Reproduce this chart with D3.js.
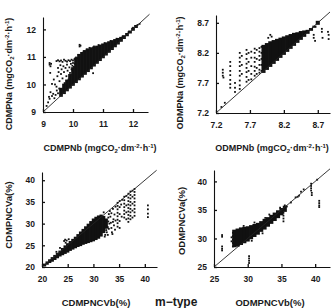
<!DOCTYPE html>
<html>
<head>
<meta charset="utf-8">
<script src="https://cdn.jsdelivr.net/npm/d3@7"></script>
<style>
body { margin: 0; background: #fff; }
svg text { font-family: "Liberation Sans", Arial, sans-serif; font-weight: bold; fill: #1a1a1a; }
</style>
</head>
<body>
<script>
// ---- data ----
// dense clouds are stored as [x, yLow, yHigh] columns, loose dots as [x, y]

var cdmpnTicks = [9, 10, 11, 12];
var odmpnTicks = [7.2, 7.7, 8.2, 8.7];
var cdmpncvXTicks = [20, 25, 30, 35, 40];
var cdmpncvYTicks = [20, 25, 30, 35, 40];
var odmpncvTicks = [25, 30, 35, 40];

var cdmpnCore = [
  [9.6, 9.58, 9.85], [9.7, 9.68, 10.0], [9.8, 9.78, 10.15], [9.9, 9.88, 10.35],
  [10.0, 9.98, 10.6], [10.1, 10.08, 10.95], [10.2, 10.18, 11.08], [10.3, 10.28, 11.15],
  [10.4, 10.38, 11.22], [10.5, 10.48, 11.28], [10.6, 10.58, 11.32], [10.7, 10.68, 11.35],
  [10.8, 10.78, 11.38], [10.9, 10.88, 11.42], [11.0, 10.98, 11.46], [11.1, 11.08, 11.5],
  [11.2, 11.18, 11.54], [11.3, 11.28, 11.58], [11.4, 11.38, 11.62], [11.5, 11.48, 11.66],
  [11.6, 11.58, 11.7], [11.7, 11.68, 11.76], [11.8, 11.78, 11.84], [11.9, 11.88, 11.93],
  [12.0, 11.98, 12.03], [12.1, 12.08, 12.13]
];
var cdmpnPts = [
  [9.12, 9.22], [9.17, 9.35], [9.2, 9.55], [9.22, 9.48], [9.25, 9.72], [9.3, 9.58], [9.34, 9.66],
  [9.38, 9.5], [9.42, 9.62], [9.46, 9.78], [9.5, 9.68], [9.54, 9.85],
  [9.22, 10.78], [9.22, 10.72], [9.25, 10.66], [9.27, 10.75], [9.24, 10.42], [9.3, 10.02], [9.36, 10.18],
  [9.45, 10.85], [9.5, 10.88], [9.55, 10.84], [9.6, 10.87], [9.65, 10.82], [9.7, 10.9], [9.75, 10.86],
  [9.8, 10.83], [9.85, 10.88], [9.9, 10.85], [9.95, 10.9], [10.0, 10.87], [10.05, 10.92],
  [9.48, 10.3], [9.5, 10.6], [9.52, 10.45], [9.55, 10.12], [9.58, 10.7], [9.6, 10.38], [9.62, 10.55],
  [9.65, 10.22], [9.68, 10.66], [9.7, 10.45], [9.72, 10.05], [9.75, 10.6], [9.78, 10.3], [9.8, 10.72],
  [9.82, 10.5], [9.85, 10.18], [9.88, 10.62], [9.9, 10.42], [9.93, 10.75], [9.95, 10.55], [9.98, 10.68],
  [10.0, 10.78], [10.03, 10.64], [10.06, 10.75], [10.1, 10.98], [10.15, 10.96], [9.4, 10.0], [9.45, 9.92],
  [10.22, 11.38], [10.22, 11.44], [10.25, 11.41], [10.67, 10.41], [10.35, 11.2], [10.45, 11.27],
  [10.55, 11.33], [10.7, 11.38], [10.85, 11.43], [11.05, 11.5], [11.25, 11.58], [11.45, 11.66],
  [11.65, 11.74], [11.85, 11.9], [12.0, 12.06], [12.15, 12.16], [12.22, 12.2]
];

var odmpnCore = [
  [7.9, 7.88, 8.32], [7.95, 7.93, 8.35], [8.0, 7.98, 8.38], [8.05, 8.03, 8.4], [8.1, 8.08, 8.42],
  [8.15, 8.13, 8.44], [8.2, 8.18, 8.46], [8.25, 8.23, 8.48], [8.3, 8.28, 8.5], [8.35, 8.33, 8.52],
  [8.4, 8.38, 8.53], [8.45, 8.43, 8.55], [8.5, 8.48, 8.56], [8.55, 8.53, 8.57], [8.6, 8.58, 8.6],
  [8.65, 8.63, 8.64], [8.7, 8.68, 8.72]
];
var odmpnPts = [
  [7.3, 7.92], [7.3, 7.87], [7.3, 7.82], [7.31, 7.79], [7.33, 7.37], [7.28, 7.3],
  [7.41, 8.05], [7.41, 7.98], [7.41, 7.9], [7.41, 7.83], [7.41, 7.75], [7.41, 7.68], [7.41, 7.62],
  [7.48, 7.7], [7.48, 7.62], [7.48, 7.55],
  [7.55, 8.2], [7.55, 8.12], [7.55, 8.05], [7.55, 7.98], [7.55, 7.9], [7.55, 7.82], [7.55, 7.74], [7.55, 7.66], [7.55, 7.6],
  [7.58, 8.15], [7.58, 8.0], [7.58, 7.85],
  [7.65, 8.25], [7.65, 8.18], [7.65, 8.1], [7.65, 8.02], [7.65, 7.95], [7.65, 7.88], [7.65, 7.8], [7.65, 7.72],
  [7.68, 8.2], [7.68, 8.05], [7.68, 7.9], [7.68, 7.75],
  [7.72, 8.22], [7.72, 8.12], [7.72, 7.98], [7.72, 7.85], [7.72, 7.76],
  [7.77, 8.27], [7.77, 8.2], [7.77, 8.12], [7.77, 8.05], [7.77, 7.97], [7.77, 7.9], [7.77, 7.82],
  [7.8, 8.25], [7.8, 8.1], [7.8, 7.95], [7.8, 7.85],
  [7.84, 8.28], [7.84, 8.22], [7.84, 8.15], [7.84, 8.08], [7.84, 8.0], [7.84, 7.92], [7.84, 7.87],
  [7.87, 8.3], [7.87, 8.2], [7.87, 8.1], [7.87, 8.0], [7.87, 7.9],
  [7.97, 8.45], [8.0, 8.5], [8.02, 8.47],
  [8.64, 8.45], [8.64, 8.5], [8.66, 8.4], [8.76, 8.6], [8.76, 8.55], [8.77, 8.45],
  [8.85, 8.55], [8.86, 8.5], [8.86, 8.43]
];

var cdmpncvCore = [
  [20.5, 20.3, 20.6], [21.0, 20.7, 21.1], [21.5, 21.1, 21.6], [22.0, 21.4, 22.1], [22.5, 21.8, 22.6],
  [23.0, 22.2, 23.1], [23.5, 22.6, 23.6], [24.0, 22.9, 24.2], [24.5, 23.2, 24.8], [25.0, 23.5, 25.3],
  [25.5, 23.9, 25.8], [26.0, 24.2, 26.3], [26.5, 24.5, 26.8], [27.0, 24.8, 27.4], [27.5, 25.0, 28.0],
  [28.0, 25.3, 28.6], [28.5, 25.5, 29.2], [29.0, 25.7, 29.8], [29.5, 25.9, 30.4], [30.0, 26.1, 31.0],
  [30.5, 26.4, 31.4], [31.0, 26.7, 31.7], [31.5, 27.2, 31.9], [32.0, 28.0, 31.6], [32.5, 29.0, 31.0]
];
var cdmpncvPts = [
  [24.3, 26.0], [24.5, 26.3], [24.6, 25.6], [24.8, 26.1], [25.2, 26.4], [23.5, 24.4], [22.8, 23.5],
  [32.0, 32.6], [32.3, 27.4], [32.5, 28.5], [32.6, 28.0], [32.8, 27.4], [32.2, 27.0], [32.9, 30.5], [33.0, 32.2],
  [32.8, 29.2], [32.9, 31.4], [33.0, 28.8], [33.1, 30.0],
  [33.2, 32.9], [33.3, 31.6], [33.4, 30.2], [33.5, 29.0], [33.6, 28.0], [33.8, 33.4], [33.9, 31.0], [34.0, 29.6], [33.7, 27.6],
  [33.5, 32.4], [33.8, 30.4], [34.1, 32.1], [34.2, 28.6], [34.3, 33.9], [34.3, 30.7],
  [34.7, 34.8], [34.7, 34.1], [34.7, 33.3], [34.7, 32.5], [34.7, 31.7], [34.7, 30.9], [34.7, 30.1], [34.7, 29.3],
  [35.1, 35.2], [35.1, 33.8], [35.1, 32.2], [35.1, 30.6], [35.1, 29.0], [35.4, 34.4], [35.5, 31.6], [35.6, 35.5],
  [36.0, 36.2], [36.0, 35.4], [36.0, 34.6], [36.0, 33.8], [36.0, 33.0], [36.0, 32.2], [36.0, 31.4],
  [36.4, 36.4], [36.4, 34.2], [36.4, 32.6], [36.4, 31.0],
  [36.8, 36.9], [36.8, 36.0], [36.8, 35.2], [36.8, 34.4], [36.8, 33.6], [36.8, 32.8], [36.8, 32.0], [36.8, 31.2], [36.8, 30.4],
  [37.2, 37.4], [37.2, 36.6], [37.2, 35.8], [37.2, 35.0], [37.2, 34.2], [37.2, 33.4], [37.2, 32.6], [37.2, 31.8], [37.2, 31.0],
  [37.6, 37.6], [37.6, 36.2], [37.6, 34.6], [37.6, 33.0], [37.6, 31.4],
  [38.0, 38.0], [38.0, 37.3], [38.0, 36.6], [38.0, 35.8], [38.0, 35.0], [38.0, 34.2], [38.0, 33.4], [38.0, 32.6], [38.0, 31.8],
  [40.6, 34.2], [40.6, 33.3], [40.6, 32.3], [40.6, 31.5]
];

var odmpncvCore = [
  [28.0, 28.6, 31.4], [28.5, 28.7, 31.6], [29.0, 29.0, 31.8], [29.5, 29.3, 31.9], [30.0, 29.6, 32.0],
  [30.5, 30.0, 32.2], [31.0, 30.4, 32.4], [31.5, 30.8, 32.6], [32.0, 31.3, 32.9], [32.5, 31.7, 33.3],
  [33.0, 32.2, 33.6], [33.5, 32.7, 34.0], [34.0, 33.2, 34.4], [34.5, 33.7, 34.8], [35.0, 34.2, 35.2],
  [35.5, 34.8, 35.6]
];
var odmpncvPts = [
  [26.2, 30.6], [26.2, 30.3], [26.2, 28.6], [26.2, 28.2], [26.2, 27.9],
  [30.2, 26.9], [30.2, 26.5], [30.2, 26.1], [30.2, 25.7],
  [27.8, 28.6], [27.8, 29.2], [27.8, 29.8], [27.8, 30.4], [27.8, 31.0], [27.6, 29.5], [27.6, 30.2],
  [33.2, 34.2], [32.6, 33.6], [31.0, 32.8], [29.4, 32.2], [34.8, 35.4], [30.6, 29.6], [32.2, 30.9],
  [35.3, 34.5], [35.3, 34.0], [35.3, 33.5], [35.3, 33.0],
  [35.5, 35.8], [35.8, 35.6], [36.4, 36.3], [37.1, 37.2], [37.4, 37.3],
  [37.9, 38.2], [38.3, 38.6], [37.6, 37.5],
  [39.4, 39.6], [39.4, 39.2], [39.4, 38.8], [39.4, 38.4], [39.5, 38.0], [39.5, 37.6],
  [40.6, 36.6], [40.6, 36.2], [40.6, 35.8], [40.6, 35.5],
  [40.3, 40.3]
];

// ---- layout ----
var width = 331, height = 308;

var panels = [
  { core: cdmpnCore, pts: cdmpnPts, step: 0.1, xt: cdmpnTicks, yt: cdmpnTicks, fmt: "d",
    xd: [9, 12.5], yd: [9, 12.45], xr: [43, 148], yr: [112, 17], diag: 12.55,
    xName: "CDMPNb", yName: "CDMPNa", unit: true, xLab: [100, 151], yLab: [12, 74] },
  { core: odmpnCore, pts: odmpnPts, step: 0.05, xt: odmpnTicks, yt: odmpnTicks, fmt: ".1f",
    xd: [7.2, 8.88], yd: [7.2, 8.83], xr: [216, 330], yr: [113, 15], diag: 8.88,
    xName: "ODMPNb", yName: "ODMPNa", unit: true, xLab: [272, 151], yLab: [183, 73] },
  { core: cdmpncvCore, pts: cdmpncvPts, step: 0.5, xt: cdmpncvXTicks, yt: cdmpncvYTicks, fmt: "d",
    xd: [20, 42.37], yd: [20, 41.9], xr: [42, 157], yr: [267, 172], diag: 42.3,
    xName: "CDMPNCVb(%)", yName: "CDMPNCVa(%)", unit: false, xLab: [96, 306], yLab: [12, 215] },
  { core: odmpncvCore, pts: odmpncvPts, step: 0.5, xt: odmpncvTicks, yt: odmpncvTicks, fmt: "d",
    xd: [25, 42.2], yd: [25, 42.0], xr: [214, 330], yr: [267, 170], diag: 42.2,
    xName: "ODMPNCVb(%)", yName: "ODMPNCVa(%)", unit: false, xLab: [270, 306], yLab: [185, 221] }
];

var svg = d3.select("body").append("svg")
  .attr("width", width)
  .attr("height", height);

// writes "NAME (mgCO2·dm-2·h-1)" with sub/superscripts
function unitLabel(t, name) {
  t.append("tspan").text(name + " (mgCO");
  t.append("tspan").attr("font-size", "6px").attr("dy", 2).text("2");
  t.append("tspan").attr("dy", -2).text("·dm");
  t.append("tspan").attr("font-size", "6px").attr("dy", -3.5).text("-2");
  t.append("tspan").attr("dy", 3.5).text("·h");
  t.append("tspan").attr("font-size", "6px").attr("dy", -3.5).text("-1");
  t.append("tspan").attr("dy", 3.5).text(")");
}

panels.forEach(function(p) {
  var x = d3.scaleLinear().domain(p.xd).range(p.xr);
  var y = d3.scaleLinear().domain(p.yd).range(p.yr);
  var g = svg.append("g");

  var colW = x(p.xd[0] + p.step) - x(p.xd[0]) + 0.7;

  g.selectAll(".col")
    .data(p.core)
    .enter()
      .append("rect")
      .attr("x", function(d) { return x(d[0]) - colW / 2; })
      .attr("y", function(d) { return y(d[2]) - 0.8; })
      .attr("width", colW)
      .attr("height", function(d) { return y(d[1]) - y(d[2]) + 1.6; })
      .attr("fill", "#111");

  g.selectAll(".pt")
    .data(p.pts)
    .enter()
      .append("rect")
      .attr("x", function(d) { return x(d[0]) - 0.9; })
      .attr("y", function(d) { return y(d[1]) - 0.9; })
      .attr("width", 1.8)
      .attr("height", 1.8)
      .attr("fill", "#111");

  // 1:1 line
  g.append("line")
    .attr("x1", x(p.xd[0])).attr("y1", y(p.yd[0]))
    .attr("x2", x(p.diag)).attr("y2", y(p.diag))
    .attr("stroke", "#222")
    .attr("stroke-width", 0.9);

  var xAxis = d3.axisBottom(x).tickValues(p.xt).tickSizeInner(-3).tickSizeOuter(0).tickPadding(9)
    .tickFormat(d3.format(p.fmt));
  var yAxis = d3.axisLeft(y).tickValues(p.yt).tickSizeInner(-3).tickSizeOuter(0).tickPadding(7)
    .tickFormat(d3.format(p.fmt));

  var xa = g.append("g").attr("transform", "translate(0," + p.yr[0] + ")").call(xAxis);
  var ya = g.append("g").attr("transform", "translate(" + p.xr[0] + ",0)").call(yAxis);
  [xa, ya].forEach(function(a) {
    a.select(".domain").attr("stroke", "#111").attr("stroke-width", 1.1);
    a.selectAll(".tick line").attr("stroke", "#111").attr("stroke-width", 1.3);
    a.selectAll("text").attr("font-size", "8.5px").attr("font-family", "Liberation Sans, Arial, sans-serif")
      .attr("font-weight", "bold").attr("fill", "#222");
  });

  var xt = g.append("text")
    .attr("x", p.xLab[0]).attr("y", p.xLab[1])
    .attr("text-anchor", "middle")
    .attr("font-size", "9px");
  var yt = g.append("text")
    .attr("transform", "translate(" + p.yLab[0] + "," + p.yLab[1] + ") rotate(-90)")
    .attr("text-anchor", "middle")
    .attr("font-size", "9px");
  if (p.unit) {
    unitLabel(xt, p.xName);
    unitLabel(yt, p.yName);
  } else {
    xt.attr("font-size", "9.5px").text(p.xName);
    yt.attr("font-size", "9.5px").text(p.yName);
  }
});

svg.append("text")
  .attr("x", 155).attr("y", 306)
  .attr("font-size", "12px")
  .text("m−type");
</script>
</body>
</html>
